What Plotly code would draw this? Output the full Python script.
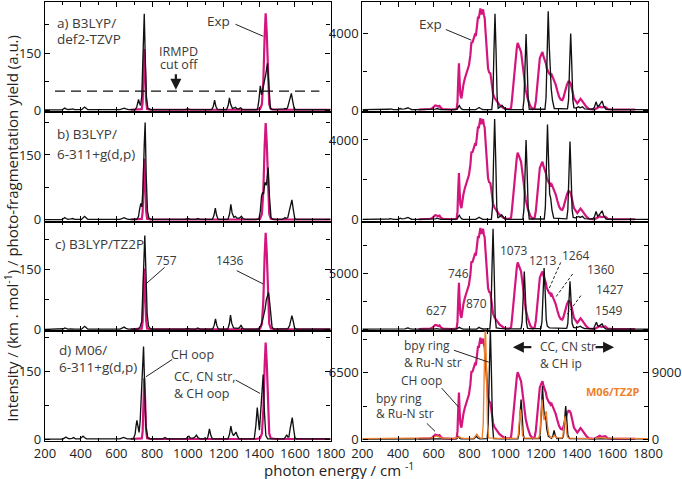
import plotly.graph_objects as go

# ---------------- data ----------------
X_MIN, X_MAX = 200, 1800
IRMPD_CUTOFF = 50  # km/mol

# experimental IRMPD spectra (a.u., strongest band = 100)
EXP_LEFT = [(680,0.3),(735,0.3),(742,1),(747,8),(751,35),(756,63),(761,40),(766,10),(772,1),(790,0.3),
            (1380,0.3),(1405,1),(1415,6),(1423,30),(1430,75),(1436,100),(1442,80),(1449,35),(1456,6),
            (1465,1),(1490,0.3),(1800,0.3)]

EXP_RIGHT = [(515,0.5),(540,0.6),(560,0.5),(580,1),(590,1.5),(600,3.5),(608,4.5),(617,4.2),(625,3.5),(632,4),
             (640,2),(650,1),(700,0.5),(728,1),(733,8),(737,30),(741,46),(745,28),(749,15),(755,11.5),(760,20),
             (766,25),(774,31),(782,36),(790,40),(797,44),(805,54),(811,67),(816,66),(822,70),(830,74),(836,73),
             (842,83),(848,92),(852,90),(856,97),(861,100),(866,94),(870,97),(876,99),(881,93),(885,91),(889,80),
             (893,69),(897,56),(900,49),(904,41),(910,37),(917,36),(922,30),(927,22),(932,16),(940,12),(950,9),
             (968,5),(990,2),(1006,1),(1025,1),(1033,2),(1038,10),(1043,21),(1050,37),(1058,51),(1065,61),
             (1070,66),(1075,64),(1081,60),(1089,57),(1094,50),(1100,42),(1107,31),(1115,20),(1126,11.5),
             (1140,4),(1154,1),(1165,2),(1172,9),(1177,20),(1181,31),(1188,42),(1194,51),(1203,55),(1209,57),
             (1214,53),(1218,51),(1224,47),(1228,46),(1233,41),(1237,39),(1242,38),(1246,36),(1250,36),
             (1255,34),(1260,35),(1265,33),(1270,31),(1275,28.5),(1283,25),(1292,19),(1302,13),(1311,10.3),
             (1320,9.8),(1326,12),(1330,15),(1339,21),(1346,25),(1354,28),(1360,28),(1367,26),(1372,23),
             (1376,19),(1385,11.5),(1395,8),(1404,6.5),(1410,8),(1414,9),(1418,10.5),(1422,11),(1427,10),
             (1432,9),(1441,6.5),(1455,3),(1469,1),(1500,0.5),(1512,1.5),(1520,2.5),(1530,3.5),(1538,2.5),
             (1545,2.5),(1553,3),(1561,3),(1568,2),(1575,1),(1600,0.5),(1728,0.5)]

# computed spectra, km/mol
BLACK_LA = [(200,0.5),(295,0.5),(304,3),(311,5),(318,3),(328,1),(345,2),(356,3),(366,1),(405,1),(414,5),(422,8),
            (430,5),(440,1),(620,1),(635,3),(644,5),(653,3),(668,1),(705,1),(714,8),(719,18),(724,28),(729,18),
            (735,12),(742,35),(749,140),(756,254),(762,130),(768,35),(776,5),(790,1),(985,1),(1000,3),(1015,1),
            (1045,1),(1056,3),(1068,1),(1088,1),(1095,2),(1102,1),(1134,1),(1143,10),(1150,26),(1157,10),(1166,1),
            (1217,1),(1226,12),(1233,32),(1240,15),(1250,4),(1258,5),(1267,7),(1276,3),(1286,3),(1296,6),(1305,2),
            (1315,1),(1390,1),(1398,25),(1406,64),(1413,40),(1420,55),(1428,80),(1437,95),(1446,123),(1453,55),
            (1462,5),(1472,1),(1530,1),(1538,3),(1544,4),(1550,3),(1558,5),(1566,20),(1574,38),(1580,44),(1587,25),
            (1596,3),(1605,1),(1800,1)]

BLACK_LB = [(200,0.5),(295,0.5),(304,3),(311,5),(318,3),(328,1),(345,2),(356,3),(366,1),(405,1),(414,5),(422,8),
            (430,5),(440,1),(620,1),(635,3),(644,5),(653,3),(668,1),(715,1),(724,8),(730,25),(737,38),(743,30),
            (750,85),(756,175),(761,225),(767,100),(774,20),(782,4),(795,1),(985,1),(1000,3),(1015,1),(1045,1),
            (1056,3),(1068,1),(1138,1),(1147,11),(1154,27),(1161,11),(1170,1),(1225,1),(1234,14),(1241,36),
            (1248,16),(1258,6),(1266,8),(1275,4),(1290,4),(1300,8),(1309,3),(1320,1),(1398,1),(1406,20),(1413,55),
            (1418,62),(1424,60),(1432,87),(1440,80),(1450,121),(1457,55),(1466,5),(1476,1),(1530,1),(1538,3),
            (1544,5),(1550,3),(1560,5),(1569,22),(1577,40),(1583,46),(1590,26),(1599,3),(1608,1),(1800,1)]

BLACK_LC = [(200,0.5),(295,0.5),(304,2),(311,4),(318,2),(328,1),(345,1.5),(356,2),(366,1),(405,1),(414,5),(422,8),
            (430,5),(440,1),(620,1),(635,3),(644,6),(653,3),(668,1),(720,1),(732,6),(742,20),(750,110),(755,200),
            (759,236),(765,150),(772,40),(780,8),(790,2),(800,1),(985,1),(1000,3),(1015,1),(1045,1),(1056,4),
            (1068,1),(1090,1),(1100,2),(1110,1),(1139,1),(1148,11),(1155,27),(1162,11),(1171,1),(1224,1),(1233,15),
            (1239,36),(1246,16),(1256,4),(1266,3),(1282,3),(1290,5),(1298,11),(1306,4),(1315,1),(1395,1),(1410,10),
            (1422,30),(1432,50),(1440,75),(1447,90),(1452,93),(1458,70),(1465,30),(1472,6),(1482,1),(1545,1),
            (1560,2),(1570,10),(1577,28),(1583,35),(1590,22),(1598,4),(1608,1),(1800,1)]

BLACK_LD = [(200,0.5),(300,0.5),(310,3),(317,5),(324,3),(335,1),(352,2),(361,4),(370,1),(395,1),(405,4),(413,7),
            (421,4),(432,1),(620,1),(632,3),(639,4),(647,3),(660,1),(695,1),(705,12),(710,30),(715,42),(721,28),
            (727,15),(733,40),(740,110),(747,180),(752,205),(758,120),(765,30),(775,4),(790,1),(860,1),(872,4),
            (884,1),(990,1),(1000,5),(1006,7),(1013,3),(1025,2),(1040,5),(1048,9),(1056,4),(1070,1),(1090,1),
            (1097,3),(1104,1),(1110,2),(1115,10),(1121,23),(1128,10),(1137,1),(1225,1),(1234,12),(1241,29),
            (1248,15),(1256,8),(1263,12),(1270,16),(1277,8),(1286,1),(1372,1),(1381,30),(1389,70),(1395,35),
            (1401,20),(1408,60),(1415,115),(1422,143),(1429,60),(1437,8),(1447,1),(1540,1),(1548,6),(1554,10),
            (1560,5),(1566,5),(1574,25),(1580,42),(1585,48),(1592,25),(1600,3),(1610,1),(1800,1)]

BLACK_RA = [(200,20),(340,20),(350,40),(357,60),(364,40),(375,20),(400,30),(407,60),(413,80),(420,50),(428,40),
            (436,60),(443,80),(449,110),(456,120),(463,80),(475,30),(520,20),(600,20),(610,50),(617,80),(624,50),
            (640,20),(720,20),(731,50),(737,140),(743,230),(749,140),(755,60),(765,25),(835,25),(846,80),(854,130),
            (862,80),(875,25),(925,30),(931,660),(937,3020),(943,5040),(949,3020),(955,660),(961,90),(968,120),
            (975,180),(982,250),(990,150),(1000,40),(1020,20),(1099,30),(1105,520),(1111,2380),(1117,3970),
            (1123,2380),(1129,520),(1135,40),(1223,40),(1229,670),(1235,3100),(1241,5170),(1247,3300),(1253,1400),
            (1258,1100),(1265,500),(1275,80),(1349,60),(1355,530),(1361,2400),(1367,4000),(1373,2400),(1379,530),
            (1385,120),(1395,100),(1411,170),(1420,120),(1433,170),(1445,60),(1490,40),(1500,150),(1509,430),
            (1518,180),(1527,250),(1535,350),(1543,470),(1552,200),(1565,40),(1580,20),(1800,20)]

BLACK_RB = [(200,20),(340,20),(350,40),(357,60),(364,40),(375,20),(400,30),(407,60),(413,80),(420,50),(428,40),
            (436,60),(443,80),(449,110),(456,120),(463,80),(475,30),(520,20),(600,20),(610,50),(617,80),(624,50),
            (640,20),(720,20),(731,50),(737,140),(743,230),(749,140),(755,60),(765,25),(835,25),(846,80),(854,130),
            (862,80),(875,25),(923,30),(929,660),(935,3030),(941,5050),(947,3030),(953,660),(959,90),(966,120),
            (973,180),(980,250),(988,150),(998,40),(1020,20),(1099,30),(1105,520),(1111,2400),(1117,4000),
            (1123,2400),(1129,520),(1135,40),(1219,40),(1225,620),(1231,2870),(1237,4780),(1243,3000),(1249,1300),
            (1255,1080),(1262,500),(1272,80),(1345,50),(1351,510),(1357,2350),(1363,3920),(1369,2350),(1375,510),
            (1381,120),(1395,100),(1411,170),(1420,120),(1433,170),(1445,60),(1490,40),(1500,150),(1509,420),
            (1518,180),(1527,250),(1535,350),(1543,450),(1552,200),(1565,40),(1580,20),(1800,20)]

BLACK_RC = [(200,40),(400,40),(413,80),(420,60),(440,60),(450,120),(456,150),(463,80),(480,40),(600,40),(617,80),
            (630,40),(725,40),(736,130),(743,200),(750,130),(765,40),(840,50),(849,150),(854,200),(860,120),
            (875,50),(914,60),(920,1170),(926,5400),(932,9020),(938,5400),(944,1170),(950,150),(960,150),(970,100),
            (985,80),(1000,60),(1083,70),(1089,80),(1095,680),(1101,3120),(1107,5200),(1113,3120),(1119,680),
            (1125,120),(1135,80),(1194,80),(1200,100),(1206,720),(1212,3300),(1218,5500),(1224,3400),(1230,900),
            (1236,300),(1248,150),(1339,100),(1345,120),(1351,560),(1357,2590),(1363,4310),(1369,2590),(1375,560),
            (1383,200),(1395,150),(1412,250),(1420,300),(1430,200),(1445,80),(1495,80),(1504,450),(1511,650),
            (1518,350),(1527,300),(1536,450),(1543,500),(1552,200),(1565,50),(1800,40)]

BLACK_RD = [(200,30),(440,30),(456,60),(470,30),(600,30),(612,60),(620,80),(630,50),(650,30),(725,40),(731,120),
            (737,320),(743,120),(752,40),(825,40),(834,200),(839,320),(845,150),(858,40),(899,60),(905,1400),
            (911,6500),(917,10800),(923,6500),(929,1400),(935,80),(980,40),(1071,50),(1077,510),(1083,2340),
            (1089,3900),(1095,2340),(1101,510),(1107,60),(1191,60),(1197,680),(1203,3100),(1209,5200),(1215,3300),
            (1221,2000),(1227,2300),(1233,1000),(1242,300),(1260,100),(1268,400),(1274,880),(1280,400),(1290,80),
            (1321,100),(1327,420),(1333,1950),(1339,3250),(1345,1950),(1351,420),(1360,80),(1500,40),(1800,40)]

ORANGE_RD = [(200,100),(560,100),(590,200),(605,350),(617,450),(630,300),(650,150),(720,120),(733,250),(742,350),
             (752,200),(770,120),(825,150),(835,500),(841,700),(848,450),(860,150),(871,150),(877,2100),(883,9600),
             (889,16000),(895,9600),(901,2100),(907,200),(960,120),(1067,120),(1073,530),(1079,2430),(1085,4050),
             (1091,2430),(1097,530),(1105,150),(1188,150),(1194,700),(1200,3240),(1206,5400),(1212,3400),
             (1218,2600),(1224,3300),(1230,3800),(1236,2000),(1244,600),(1255,250),(1268,300),(1276,500),(1284,300),
             (1300,150),(1317,150),(1323,400),(1329,1860),(1335,3100),(1341,1860),(1347,400),(1355,150),(1500,100),
             (1520,200),(1540,250),(1560,150),(1800,100)]

# ---------------- styling ----------------
MAGENTA = '#D4157E'
BLACK = '#111111'
ORANGE = '#EF7F2C'
TEXT = '#3a3a3a'
FONT = 'Open Sans'

COL_DOM = {'L': [0.0, 0.4737], 'R': [0.5263, 1.0]}
ROW_DOM = [[0.75, 1.0], [0.5, 0.75], [0.25, 0.5], [0.0, 0.25]]
EXP_RANGE = {'L': [-1.75, 111.6], 'R': [-1.7, 106.3]}

panels = [
    ('L', 0, BLACK_LA, EXP_LEFT, [-4.5, 285], 150, 75),
    ('L', 1, BLACK_LB, EXP_LEFT, [-3.9, 250], 150, 75),
    ('L', 2, BLACK_LC, EXP_LEFT, [-4.3, 271], 150, 75),
    ('L', 3, BLACK_LD, EXP_LEFT, [-3.8, 239], 150, 75),
    ('R', 0, BLACK_RA, EXP_RIGHT, [-89, 5650], 4000, 2000),
    ('R', 1, BLACK_RB, EXP_RIGHT, [-85, 5415], 4000, 2000),
    ('R', 2, BLACK_RC, EXP_RIGHT, [-152, 9670], 5000, 2500),
    ('R', 3, BLACK_RD, EXP_RIGHT, [-166, 10570], 6500, 3250),
]
ORANGE_RANGE = [-230, 14630]


def xn(p):
    return 'x' if p == 1 else f'x{p}'


def yb(p):
    return 'y' if p == 1 else f'y{p}'


def key(prefix, n):
    return prefix if n == 1 else f'{prefix}{n}'


tickfont = dict(family=FONT, size=13, color='#222')
axline = dict(showline=True, linecolor='black', linewidth=1.3, showgrid=False, zeroline=False)

fig = go.Figure()
layout = {}

for i, (col, row, blk, exp, rng, dt, mdt) in enumerate(panels):
    p = i + 1
    layout[key('xaxis', p)] = dict(
        domain=COL_DOM[col], anchor=yb(p), range=[X_MIN, X_MAX], mirror='ticks',
        ticks='inside', ticklen=5, tickwidth=1.2, tickcolor='black', tick0=200, dtick=200,
        minor=dict(ticks='inside', tick0=100, dtick=100, ticklen=3, tickwidth=1.2, tickcolor='black'),
        showticklabels=(row == 3), tickfont=tickfont, tickformat='d', **axline)
    layout[key('yaxis', p)] = dict(
        domain=ROW_DOM[row], anchor=xn(p), range=EXP_RANGE[col], mirror=True,
        ticks='', showticklabels=False, **axline)
    layout[f'yaxis{p + 8}'] = dict(
        overlaying=yb(p), anchor=xn(p), side='left', range=rng,
        mirror=('ticks' if p != 8 else False),
        ticks='inside', ticklen=5, tickwidth=1.2, tickcolor='black', tick0=0, dtick=dt,
        minor=dict(ticks='inside', tick0=0, dtick=mdt, ticklen=4, tickwidth=1.2, tickcolor='black'),
        tickfont=tickfont, tickformat='d', **axline)

    fig.add_trace(go.Scatter(x=[v for v, _ in exp], y=[a for _, a in exp], xaxis=xn(p), yaxis=yb(p),
                             mode='lines', line=dict(color=MAGENTA, width=2.2), hoverinfo='skip',
                             showlegend=False))
    fig.add_trace(go.Scatter(x=[v for v, _ in blk], y=[a for _, a in blk], xaxis=xn(p), yaxis=f'y{p + 8}',
                             mode='lines', line=dict(color=BLACK, width=1.35), hoverinfo='skip',
                             showlegend=False))

layout['yaxis17'] = dict(overlaying='y8', anchor='x8', side='right', range=ORANGE_RANGE,
                         ticks='inside', ticklen=5, tickwidth=1.2, tickcolor='black', tick0=0, dtick=9000,
                         minor=dict(ticks='inside', tick0=0, dtick=4500, ticklen=4, tickwidth=1.2,
                                    tickcolor='black'),
                         tickfont=tickfont, tickformat='d', **axline)
fig.add_trace(go.Scatter(x=[v for v, _ in ORANGE_RD], y=[a for _, a in ORANGE_RD], xaxis='x8', yaxis='y17',
                         mode='lines', line=dict(color=ORANGE, width=1.35), hoverinfo='skip', showlegend=False))

# ---------------- annotations ----------------
annotations = []
shapes = []


def txt(p, x, yf, s, anchor='center', color=TEXT, size=12.5):
    annotations.append(dict(xref=xn(p), yref=f'{yb(p)} domain', x=x, y=yf, text=s, showarrow=False,
                            xanchor=anchor, yanchor='middle', font=dict(family=FONT, size=size, color=color)))


def lead(p, x0, y0, x1, y1, dash='solid'):
    shapes.append(dict(type='line', xref=xn(p), yref=f'{yb(p)} domain', x0=x0, y0=y0, x1=x1, y1=y1,
                       line=dict(color='#222', width=1, dash=dash)))


def arrow(p, x, yf, ax, ay):
    annotations.append(dict(xref=xn(p), yref=f'{yb(p)} domain', x=x, y=yf, ax=ax, ay=ay, text='',
                            showarrow=True, arrowhead=2, arrowsize=1, arrowwidth=2.2, arrowcolor='#1a1a1a'))


BIG = 13.5
# panel a (left)
txt(1, 256, 0.806, 'a) B3LYP/', 'left', size=BIG)
txt(1, 256, 0.661, 'def2-TZVP', 'left', size=BIG)
txt(1, 1172, 0.825, 'Exp', size=BIG)
lead(1, 1267, 0.797, 1422, 0.688)
txt(1, 950, 0.552, 'IRMPD')
txt(1, 950, 0.434, 'cut off')
arrow(1, 933, 0.2, 0, -17)
shapes.append(dict(type='line', xref='x', yref='y9', x0=256, x1=1737, y0=IRMPD_CUTOFF, y1=IRMPD_CUTOFF,
                   line=dict(color='#111', width=1.4, dash='10px,6px')))
# panel b (left)
txt(2, 256, 0.797, 'b) B3LYP/', 'left', size=BIG)
txt(2, 256, 0.615, '6-311+g(d,p)', 'left', size=BIG)
# panel c (left)
txt(3, 245, 0.797, 'c) B3LYP/TZ2P', 'left', size=BIG)
txt(3, 883, 0.643, '757', size=12)
lead(3, 870, 0.582, 765, 0.431)
txt(3, 1237, 0.643, '1436', size=12)
lead(3, 1274, 0.552, 1422, 0.431)
# panel d (left)
txt(4, 267, 0.827, 'd) M06/', 'left', size=BIG)
txt(4, 267, 0.676, '6-311+g(d,p)', 'left', size=BIG)
txt(4, 1024, 0.791, 'CH oop')
lead(4, 913, 0.743, 765, 0.585)
txt(4, 909, 0.585, 'CC, CN str,', 'left')
txt(4, 909, 0.434, '&amp; CH oop', 'left')
lead(4, 1268, 0.555, 1404, 0.434)
# panel a (right)
txt(5, 580, 0.795, 'Exp', size=BIG)
lead(5, 668, 0.749, 811, 0.652)
# panel c (right)
for x, yf, s in [(617, 0.188, '627'), (737, 0.527, '746'), (839, 0.255, '870'), (1052, 0.734, '1073'),
                 (1213, 0.649, '1213'), (1398, 0.688, '1264'), (1539, 0.567, '1360'), (1589, 0.379, '1427'),
                 (1580, 0.188, '1549')]:
    txt(7, x, yf, s, size=12)
lead(7, 1311, 0.627, 1241, 0.37, '3px,2px')
lead(7, 1378, 0.522, 1285, 0.315, '3px,2px')
lead(7, 1424, 0.325, 1346, 0.152, '3px,2px')
# panel d (right)
txt(8, 422, 0.873, 'bpy ring', 'left', size=12)
txt(8, 422, 0.718, '&amp; Ru-N str', 'left', size=12)
lead(8, 713, 0.827, 908, 0.718)
txt(8, 404, 0.555, 'CH oop', 'left', size=12)
lead(8, 644, 0.482, 739, 0.309)
txt(8, 265, 0.388, 'bpy ring', 'left', size=12)
txt(8, 265, 0.252, '&amp; Ru-N str', 'left', size=12)
lead(8, 561, 0.161, 607, 0.088)
txt(8, 1182, 0.857, 'CC, CN str', 'left', size=12)
txt(8, 1182, 0.706, '&amp; CH ip', 'left', size=12)
arrow(8, 1043, 0.855, 20, 0)
arrow(8, 1610, 0.855, -20, 0)
txt(8, 1440, 0.448, '<b>M06/TZ2P</b>', 'left', color=ORANGE, size=11)

# axis titles
annotations.append(dict(xref='paper', yref='paper', x=-0.056, y=0.484, textangle=-90, showarrow=False,
                        text='Intensity / (km . mol<sup>-1</sup>) / photo-fragmentation yield (a.u.)',
                        xanchor='center', yanchor='middle', font=dict(family=FONT, size=15, color='#222')))
annotations.append(dict(xref='paper', yref='paper', x=0.488, y=-0.064, showarrow=False,
                        text='photon energy / cm <sup>-1</sup>',
                        xanchor='center', yanchor='middle', font=dict(family=FONT, size=15, color='#222')))

fig.update_layout(**layout)
fig.update_layout(width=682, height=479, margin=dict(l=45, r=29, t=1, b=38),
                  paper_bgcolor='white', plot_bgcolor='white', showlegend=False,
                  annotations=annotations, shapes=shapes)

fig.write_html('out.html', config={'displayModeBar': False},
               post_script="document.body.style.margin='0px';")
